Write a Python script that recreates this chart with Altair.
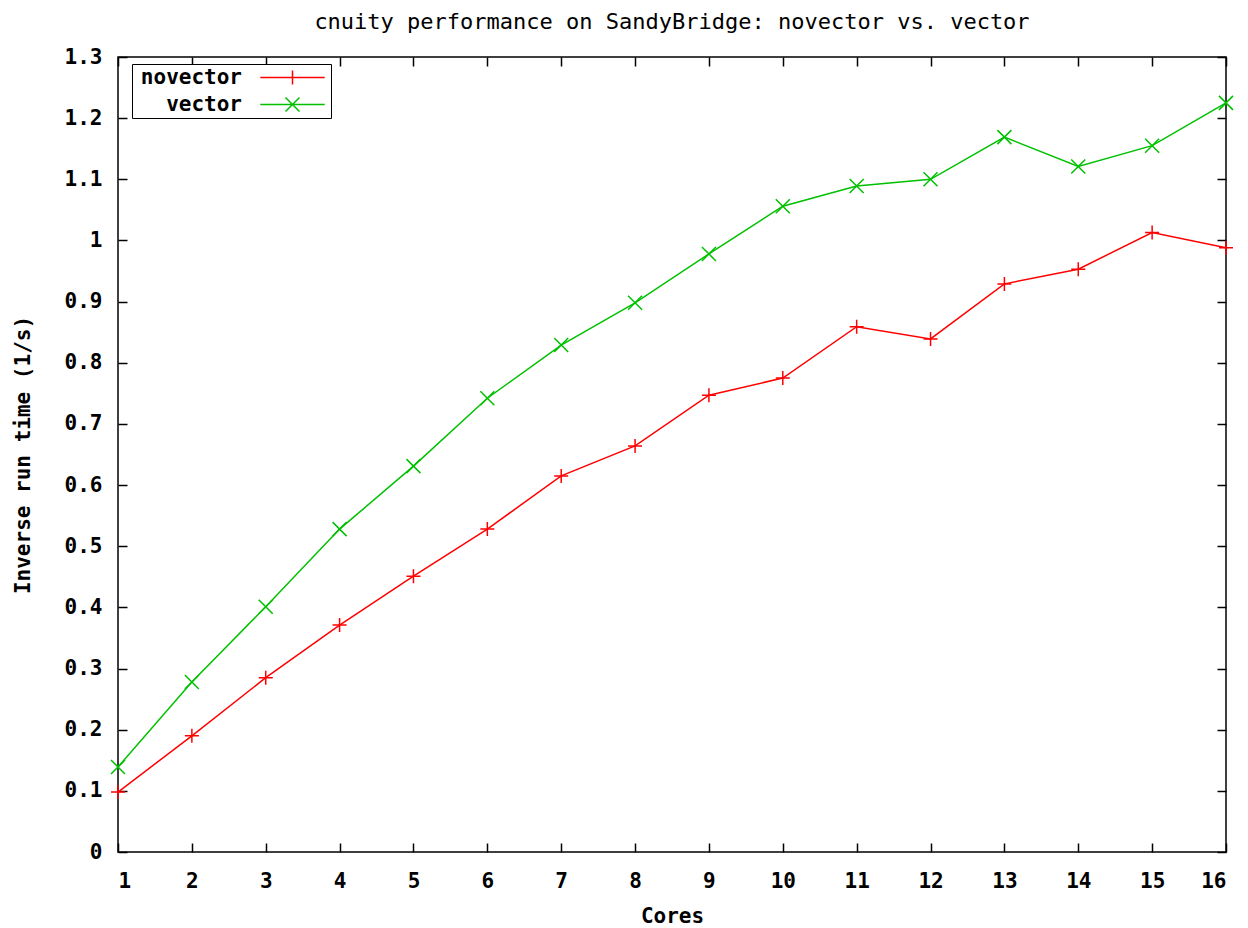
import altair as alt
import pandas as pd

# ---- data ----
cores = list(range(1, 17))
novector = [0.098, 0.190, 0.285, 0.371, 0.451, 0.528, 0.615, 0.664,
            0.747, 0.775, 0.859, 0.839, 0.929, 0.953, 1.013, 0.988]
vector = [0.139, 0.278, 0.401, 0.528, 0.631, 0.742, 0.829, 0.898,
          0.978, 1.056, 1.089, 1.100, 1.169, 1.121, 1.155, 1.225]
series_names = ["novector", "vector"]
series_colors = ["#ff0000", "#00c000"]
y_ticks = [0, 0.1, 0.2, 0.3, 0.4, 0.5, 0.6, 0.7, 0.8, 0.9, 1.0, 1.1, 1.2, 1.3]
title_text = "cnuity performance on SandyBridge: novector vs. vector"

df = pd.DataFrame({
    "Cores": cores * 2,
    "value": novector + vector,
    "series": ["novector"] * len(cores) + ["vector"] * len(cores),
})

FONT = "DejaVu Sans Mono"
plus_path = "M-1,0L1,0M0,-1L0,1"
cross_path = "M-1,-1L1,1M-1,1L1,-1"
leg_plus = "M-4.6,0L4.6,0M0,-1L0,1"
leg_cross = "M-4.6,0L4.6,0M-1,-1L1,1M-1,1L1,-1"

legend = alt.Legend(
    title=None, orient="none", legendX=14, legendY=7,
    labelAlign="right", labelOffset={"expr": "-61"}, symbolOffset=147,
    symbolSize=196, symbolStrokeWidth=1.5,
    padding=3, rowPadding=5,
    strokeColor="black", fillColor="white",
    labelFont=FONT, labelFontSize=21, labelFontWeight="bold", labelColor="black",
)

color_scale = alt.Scale(domain=series_names, range=series_colors)
x_scale = alt.Scale(domain=[1, 16], nice=False, zero=False)
y_scale = alt.Scale(domain=[0, 1.3], nice=False)
inward = {"expr": "-9"}

base = alt.Chart(df)

lines = base.mark_line(strokeWidth=1.5).encode(
    x=alt.X("Cores:Q", scale=x_scale,
            axis=alt.Axis(values=cores, format="d", title="Cores", tickSize=inward,
                          labelPadding=27, titlePadding=14)),
    y=alt.Y("value:Q", scale=y_scale,
            axis=alt.Axis(values=y_ticks, format="~g", title="Inverse run time (1/s)",
                          tickSize=inward, labelPadding=25, titlePadding=31)),
    color=alt.Color("series:N", scale=color_scale, legend=None),
)

points = base.mark_point(size=196, strokeWidth=1.5, filled=False, opacity=1).encode(
    x=alt.X("Cores:Q", scale=x_scale,
            axis=alt.Axis(orient="top", values=cores, labels=False, title=None,
                          tickSize=inward)),
    y=alt.Y("value:Q", scale=y_scale,
            axis=alt.Axis(orient="right", values=y_ticks, labels=False, title=None,
                          tickSize=inward)),
    color=alt.Color("series:N", scale=color_scale, legend=None),
    shape=alt.Shape("series:N",
                    scale=alt.Scale(domain=series_names, range=[plus_path, cross_path]),
                    legend=None),
)

# legend carrier: no marks drawn (filtered out), only the legend entries
legend_layer = base.mark_point(size=196, strokeWidth=1.5, filled=False, opacity=1).encode(
    x=alt.X("Cores:Q", scale=x_scale, axis=None),
    y=alt.Y("value:Q", scale=y_scale, axis=None),
    color=alt.Color("series:N", scale=color_scale, legend=legend),
    shape=alt.Shape("series:N",
                    scale=alt.Scale(domain=series_names, range=[leg_plus, leg_cross]),
                    legend=legend),
).transform_filter("false")

chart = alt.layer(lines, points, legend_layer).resolve_axis(
    x="independent", y="independent"
).resolve_scale(
    shape="independent", color="independent"
).properties(
    width=1108, height=795,
    title=alt.Title(title_text, font=FONT, fontSize=22, fontWeight="normal",
                    color="black", offset=12, baseline="top",
                    frame="group", anchor="middle"),
    autosize=alt.AutoSizeParams(type="none"),
    padding={"left": 118, "top": 57, "right": 22, "bottom": 76},
).configure_view(
    stroke="black", strokeWidth=1.5
).configure_axis(
    domain=False, grid=False,
    labelFont=FONT, labelFontSize=21, labelFontWeight="bold", labelColor="black",
    titleFont=FONT, titleFontSize=21, titleFontWeight="bold", titleColor="black",
    tickColor="black", tickWidth=1.5,
)

chart.save("out.html", embed_options={"renderer": "svg", "actions": False})
